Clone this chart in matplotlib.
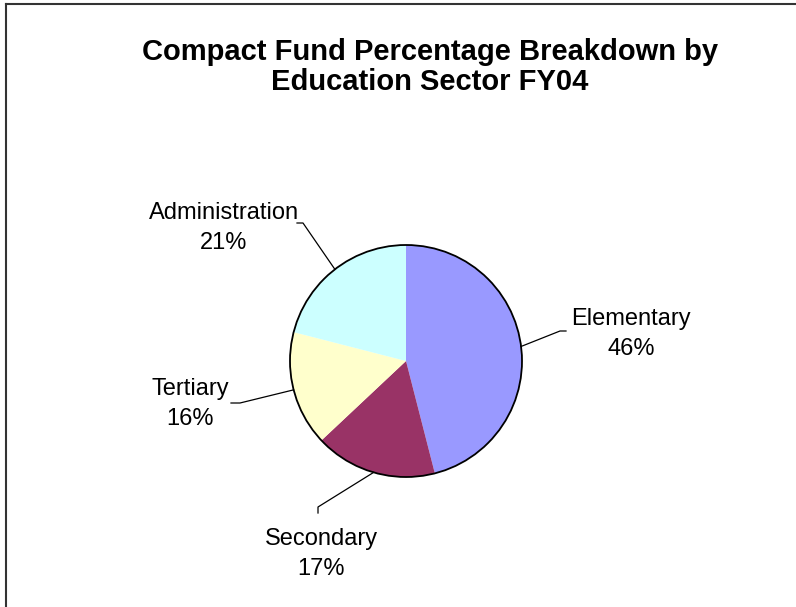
import numpy as np
import matplotlib.pyplot as plt
from matplotlib.lines import Line2D

plt.rcParams['font.family'] = ['Liberation Sans', 'DejaVu Sans']

sectors = ['Elementary', 'Secondary', 'Tertiary', 'Administration']
shares = [46, 17, 16, 21]
colors = ['#9999FF', '#993366', '#FFFFCC', '#CCFFFF']

W, H = 796, 607
fig = plt.figure(figsize=(W / 100, H / 100), dpi=100)
ax = fig.add_axes([0, 0, 1, 1])

# pie in pixel-like units, y measured up from the bottom
cx, cy, r = 406, H - 361, 116
wedges, _ = ax.pie(shares, colors=colors, startangle=90, counterclock=False,
                   center=(cx, cy), radius=r, wedgeprops=dict(linewidth=0))
ax.add_patch(plt.Circle((cx, cy), r, fill=False, edgecolor='black', lw=1.3))
ax.set_xlim(0, W)
ax.set_ylim(0, H)
ax.set_aspect('equal')
ax.axis('off')

# label text centres and leader elbow points (pixels from top-left)
label_xy = [(631, 334), (321, 554), (190, 404), (224, 228)]
elbows = [[(560, 331), (566, 331)],
          [(318, 507), (318, 513)],
          [(240, 403), (231, 403)],
          [(303, 223), (297, 223)]]

for w, name, val, (lx, ly), pts in zip(wedges, sectors, shares, label_xy, elbows):
    mid = np.deg2rad((w.theta1 + w.theta2) / 2)
    sx, sy = cx + r * np.cos(mid), cy + r * np.sin(mid)
    xs = [sx] + [p[0] for p in pts]
    ys = [sy] + [H - p[1] for p in pts]
    ax.plot(xs, ys, color='black', lw=0.9)
    ax.text(lx, H - ly, f'{name}\n{val}%', ha='center', va='center',
            fontsize=17, linespacing=1.45)

fig.text(430 / W, 1 - 67 / H, 'Compact Fund Percentage Breakdown by\nEducation Sector FY04',
         ha='center', va='center', fontsize=21, fontweight='bold', linespacing=1.08)

# chart area border (top and left edges visible)
fig.add_artist(Line2D([6 / W, 1], [1 - 4 / H, 1 - 4 / H], color='#333333', lw=1.5,
                      transform=fig.transFigure))
fig.add_artist(Line2D([6 / W, 6 / W], [0, 1 - 4 / H], color='#333333', lw=1.5,
                      transform=fig.transFigure))

plt.savefig('out.png', dpi=100)
